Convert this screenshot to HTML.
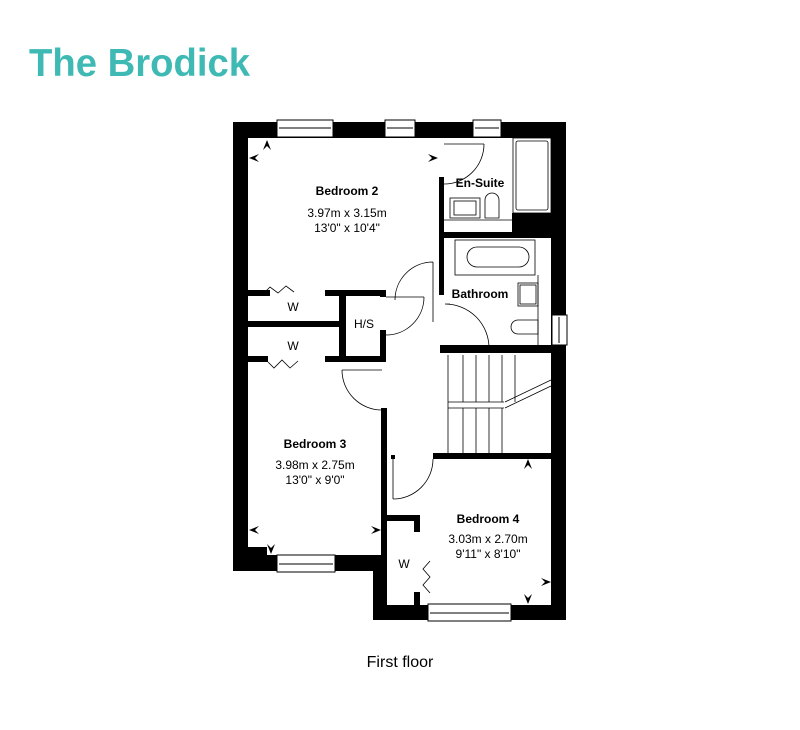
<!DOCTYPE html>
<html><head><meta charset="utf-8"><style>
body{margin:0;background:#fff;width:800px;height:730px;overflow:hidden}
svg{display:block}
</style></head><body>
<svg width="800" height="730" viewBox="0 0 800 730" xmlns="http://www.w3.org/2000/svg" font-family="Liberation Sans, sans-serif">
<text x="29" y="76" font-size="39" font-weight="bold" fill="#3fb9b4" textLength="221" lengthAdjust="spacingAndGlyphs">The Brodick</text>
<g fill="#000">
<rect x="233" y="122" width="333" height="16"/>
<rect x="233" y="122" width="15" height="449"/>
<rect x="551" y="122" width="15" height="498"/>
<rect x="233" y="555" width="34" height="16"/>
<rect x="233" y="540" width="15" height="31"/>
<rect x="248" y="547" width="19" height="9"/>
<rect x="267" y="555" width="120" height="16"/>
<rect x="373" y="555" width="14" height="65"/>
<rect x="373" y="605" width="193" height="15"/>
<rect x="439" y="177" width="5" height="118"/>
<rect x="443" y="232" width="109" height="6"/>
<rect x="512" y="213" width="40" height="25"/>
<rect x="440" y="345" width="112" height="8"/>
<rect x="248" y="290" width="22" height="6"/>
<rect x="325" y="290" width="60" height="6"/>
<rect x="248" y="321" width="93" height="6"/>
<rect x="339" y="290" width="7" height="68"/>
<rect x="380" y="290" width="6" height="7"/>
<rect x="380" y="330" width="6" height="28"/>
<rect x="248" y="356" width="20" height="6"/>
<rect x="325" y="356" width="61" height="6"/>
<rect x="381" y="408" width="6" height="150"/>
<rect x="387" y="515" width="33" height="6"/>
<rect x="414" y="515" width="6" height="17"/>
<rect x="391" y="455" width="4" height="4"/>
<rect x="433" y="453" width="119" height="6"/>
<rect x="414" y="592" width="6" height="14"/>
</g>
<g fill="#fff" stroke="#000" stroke-width="1">
<rect x="277" y="120" width="56" height="17"/><line x1="279" y1="128" x2="331" y2="128"/>
<rect x="385" y="120" width="30" height="17"/><line x1="387" y1="128" x2="413" y2="128"/>
<rect x="473" y="120" width="28" height="17"/><line x1="475" y1="128" x2="499" y2="128"/>
<rect x="277" y="555" width="58" height="17"/><line x1="279" y1="564" x2="333" y2="564"/>
<rect x="428" y="604" width="83" height="17"/><line x1="430" y1="613" x2="509" y2="613"/>
<rect x="552" y="315" width="15" height="30"/><line x1="559" y1="317" x2="559" y2="343"/>
</g>
<g fill="none" stroke="#000" stroke-width="0.8">
<rect x="513" y="138" width="38" height="75"/><rect x="516" y="141" width="32" height="69" rx="2"/>
<rect x="450" y="198" width="30" height="20"/><rect x="454" y="201" width="22" height="14"/>
<path d="M485 218 V200 a7 7 0 0 1 14 0 V218 Z"/>
<line x1="444" y1="220" x2="512" y2="220"/>
<rect x="455" y="240" width="80" height="35"/><rect x="467" y="247" width="62" height="20" rx="10"/>
<rect x="518" y="283" width="20" height="23"/><rect x="520" y="285" width="16" height="19"/>
<path d="M538 320 h-20 a7 7 0 0 0 0 14 h20 Z"/>
<line x1="538" y1="275" x2="538" y2="345"/>
<path d="M444 144 h40 M484 144 a40 40 0 0 1 -40 40"/>
<path d="M433 262 v60 M433 262 a38 38 0 0 0 -38 38"/>
<path d="M386 297 h38 M424 297 a38 38 0 0 1 -38 38"/>
<path d="M445 304 a44 44 0 0 1 44 44 M445 304 h5"/>
<path d="M342 370 h40 M342 370 a40 40 0 0 0 40 40"/>
<path d="M433 459 a40 40 0 0 1 -40 40 M393 459 v40" />
<path d="M262 295 l8 -8 l8 6 l8 -7 l8 6 M268 362 l6 6 l8 -8 l8 8 l8 -7 M430 593 l-7 -8 l7 -8 l-7 -8 l7 -8"/>
<line x1="448" y1="355" x2="448" y2="453"/>
<line x1="448" y1="402" x2="504" y2="402"/><line x1="448" y1="408" x2="504" y2="408"/>
<line x1="463" y1="355" x2="463" y2="402"/><line x1="476" y1="355" x2="476" y2="402"/><line x1="489" y1="355" x2="489" y2="402"/><line x1="502" y1="355" x2="502" y2="402"/><line x1="515" y1="355" x2="515" y2="402"/>
<line x1="463" y1="408" x2="463" y2="453"/><line x1="476" y1="408" x2="476" y2="453"/><line x1="489" y1="408" x2="489" y2="453"/><line x1="502" y1="408" x2="502" y2="453"/>
<line x1="505" y1="402" x2="551" y2="380"/><line x1="505" y1="408" x2="551" y2="386"/>
</g>
<g fill="#000">
<path d="M267 140 l-4 10 l4 -4 l4 4 z"/><path d="M249 158 l10 -4 l-4 4 l4 4 z"/><path d="M438 158 l-10 -4 l4 4 l-4 4 z"/>
<path d="M249 530 l10 -4 l-4 4 l4 4 z"/><path d="M381 530 l-10 -4 l4 4 l-4 4 z"/><path d="M271 554 l-4 -10 l4 4 l4 -4 z"/>
<path d="M528 459 l-4 10 l4 -4 l4 4 z"/><path d="M551 582 l-10 -4 l4 4 l-4 4 z"/><path d="M528 604 l-4 -10 l4 4 l4 -4 z"/>
</g>
<g font-size="12" fill="#000" text-anchor="middle">
<text x="347" y="195" font-weight="bold">Bedroom 2</text>
<text x="347" y="217">3.97m x 3.15m</text>
<text x="347" y="232">13'0" x 10'4"</text>
<text x="480" y="187" font-weight="bold">En-Suite</text>
<text x="480" y="298" font-weight="bold">Bathroom</text>
<text x="293" y="311">W</text>
<text x="293" y="350">W</text>
<text x="364" y="328">H/S</text>
<text x="315" y="448" font-weight="bold">Bedroom 3</text>
<text x="315" y="469">3.98m x 2.75m</text>
<text x="315" y="484">13'0" x 9'0"</text>
<text x="488" y="523" font-weight="bold">Bedroom 4</text>
<text x="488" y="543">3.03m x 2.70m</text>
<text x="488" y="558">9'11" x 8'10"</text>
<text x="404" y="568">W</text>
</g>
<text x="400" y="667" font-size="16" text-anchor="middle" fill="#000">First floor</text>
</svg>
</body></html>
